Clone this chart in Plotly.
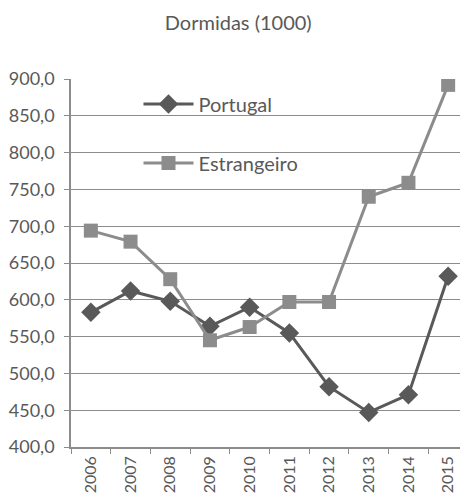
import plotly.graph_objects as go

years = ["2006", "2007", "2008", "2009", "2010", "2011", "2012", "2013", "2014", "2015"]
portugal = [583, 612, 598, 564, 590, 555, 482, 447, 471, 632]
estrangeiro = [694, 679, 628, 545, 563, 597, 597, 740, 759, 892]
y_ticks = [400, 450, 500, 550, 600, 650, 700, 750, 800, 850, 900]

FONT = "Lato"
TXT = "#595959"
GRID = "#8c8c8c"

fig = go.Figure()
fig.add_trace(go.Scatter(
    x=years, y=portugal, name="Portugal", mode="lines+markers",
    line=dict(color="#595959", width=3),
    marker=dict(symbol="diamond", size=15, color="#595959"),
    legendgroup="a",
))
fig.add_trace(go.Scatter(
    x=years, y=estrangeiro, name="Estrangeiro", mode="lines+markers",
    line=dict(color="#8c8c8c", width=3),
    marker=dict(symbol="square", size=14, color="#8c8c8c"),
    legendgroup="b",
))

fig.update_layout(
    width=468, height=499,
    margin=dict(l=63, r=8, t=71, b=60),
    paper_bgcolor="white", plot_bgcolor="white",
    separators=",.",
    font=dict(family=FONT, color=TXT, size=18),
    title=dict(text="Dormidas (1000)", x=0.492, xanchor="center", y=0.97, yanchor="middle",
               font=dict(family=FONT, size=20, color=TXT)),
    showlegend=True,
    legend=dict(x=0.17, y=0.985, xanchor="left", yanchor="top",
                bgcolor="rgba(0,0,0,0)", tracegroupgap=30,
                traceorder="grouped", font=dict(family=FONT, size=20, color=TXT),
                itemwidth=50),
    xaxis=dict(type="category", tickson="boundaries", ticks="outside", ticklen=5,
               tickcolor=GRID, showline=True, linecolor=GRID, linewidth=1.5,
               showgrid=False, tickangle=-90, tickfont=dict(size=16),
               ticklabelstandoff=1,
               range=[-0.5, 9.5], automargin=False),
    yaxis=dict(range=[400, 900], tickvals=y_ticks, tickformat=".1f", ticks="outside",
               ticklen=5, tickcolor=GRID, showline=True, linecolor=GRID, linewidth=1.5,
               showgrid=True, gridcolor=GRID, gridwidth=1.2, zeroline=False,
               ticklabelstandoff=6,
               tickfont=dict(size=18), automargin=False),
)

fig.write_html("out.html")
